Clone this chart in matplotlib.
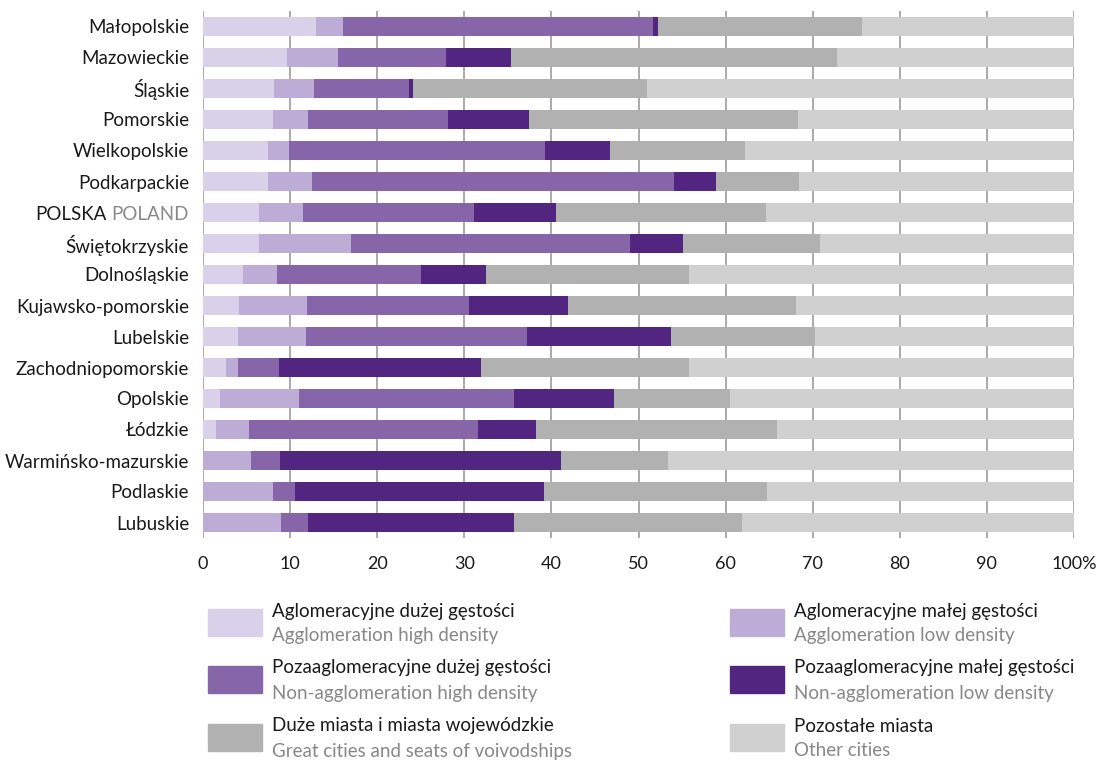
import matplotlib.pyplot as plt
from matplotlib.patches import Rectangle
import numpy as np

plt.rcParams['font.family'] = ['Lato', 'DejaVu Sans']

# --- Data (segment widths, in %) ---
regions = [
    "Małopolskie", "Mazowieckie", "Śląskie", "Pomorskie", "Wielkopolskie",
    "Podkarpackie", "POLSKA", "Świętokrzyskie", "Dolnośląskie",
    "Kujawsko-pomorskie", "Lubelskie", "Zachodniopomorskie", "Opolskie",
    "Łódzkie", "Warmińsko-mazurskie", "Podlaskie", "Lubuskie",
]
aglo_high = [13.0, 9.6, 8.2, 8.0, 7.5, 7.5, 6.4, 6.4, 4.6, 4.1, 4.0, 2.6, 2.0, 1.5, 0.0, 0.0, 0.0]
aglo_low = [3.1, 5.9, 4.5, 4.1, 2.4, 5.0, 5.1, 10.6, 3.9, 7.8, 7.8, 1.4, 9.0, 3.8, 5.5, 8.0, 9.0]
nonaglo_high = [35.6, 12.4, 11.0, 16.0, 29.4, 41.6, 19.6, 32.0, 16.5, 18.6, 25.4, 4.7, 24.7, 26.3, 3.3, 2.6, 3.1]
nonaglo_low = [0.5, 7.5, 0.4, 9.3, 7.4, 4.8, 9.4, 6.1, 7.5, 11.4, 16.5, 23.2, 11.5, 6.6, 32.3, 28.6, 23.6]
big_cities = [23.5, 37.4, 26.9, 30.9, 15.5, 9.5, 24.1, 15.7, 23.3, 26.2, 16.6, 23.9, 13.3, 27.7, 12.3, 25.6, 26.2]
other_cities = [100 - sum(v) for v in zip(aglo_high, aglo_low, nonaglo_high, nonaglo_low, big_cities)]

series = [aglo_high, aglo_low, nonaglo_high, nonaglo_low, big_cities, other_cities]
colors = ["#d9d0e9", "#bdadd6", "#8666a8", "#522580", "#b1b1b1", "#d0d0d0"]
labels_pl = [
    "Aglomeracyjne dużej gęstości", "Aglomeracyjne małej gęstości",
    "Pozaaglomeracyjne dużej gęstości", "Pozaaglomeracyjne małej gęstości",
    "Duże miasta i miasta wojewódzkie", "Pozostałe miasta",
]
labels_en = [
    "Agglomeration high density", "Agglomeration low density",
    "Non-agglomeration high density", "Non-agglomeration low density",
    "Great cities and seats of voivodships", "Other cities",
]

W, H = 1109, 764
fig = plt.figure(figsize=(W / 100, H / 100), dpi=100)


def fx(x):
    return x / W


def fy(y):
    return 1 - y / H


ax = fig.add_axes([fx(203), fy(538), fx(1074) - fx(203), fy(11) - fy(538)])

y = np.arange(len(regions))
left = np.zeros(len(regions))
for vals, c in zip(series, colors):
    ax.barh(y, vals, left=left, height=0.62, color=c, zorder=2)
    left += np.array(vals)

ax.set_xlim(0, 100)
ax.set_ylim(len(regions) - 0.5, -0.5)
ax.set_xticks(range(0, 101, 10))
ax.set_xticklabels([str(t) for t in range(0, 100, 10)] + ["100%"], fontsize=13, color="#1a1a1a")
ax.xaxis.grid(True, color="#aaaaaa", lw=1.4, zorder=0)
ax.tick_params(axis="x", length=0, pad=13)
ax.tick_params(axis="y", length=0, pad=10)
for s in ax.spines.values():
    s.set_visible(False)

ytl = ["POLAND" if r == "POLSKA" else r for r in regions]
ax.set_yticks(y)
ax.set_yticklabels(ytl, fontsize=13.5, color="#1a1a1a")
for t in ax.get_yticklabels():
    if t.get_text() == "POLAND":
        t.set_color("#888888")
        ax.annotate("POLSKA", xy=(0, 0.5), xycoords=t, xytext=(-4, 0),
                    textcoords="offset points", ha="right", va="center",
                    fontsize=13.5, color="#1a1a1a")

# --- Legend ---
rows = [609, 666, 724]
cols = [208, 730]
for i in range(6):
    r, c = i // 2, i % 2
    x0, y0 = cols[c], rows[r]
    fig.add_artist(Rectangle((fx(x0), fy(y0 + 27)), fx(54), 27 / H,
                             transform=fig.transFigure, color=colors[i]))
    fig.text(fx(x0 + 64), fy(y0 + 2), labels_pl[i], fontsize=13.5,
             color="#1a1a1a", ha="left", va="center")
    fig.text(fx(x0 + 64), fy(y0 + 27), labels_en[i], fontsize=13.5,
             color="#888888", ha="left", va="center")

plt.savefig("out.png", dpi=100)
